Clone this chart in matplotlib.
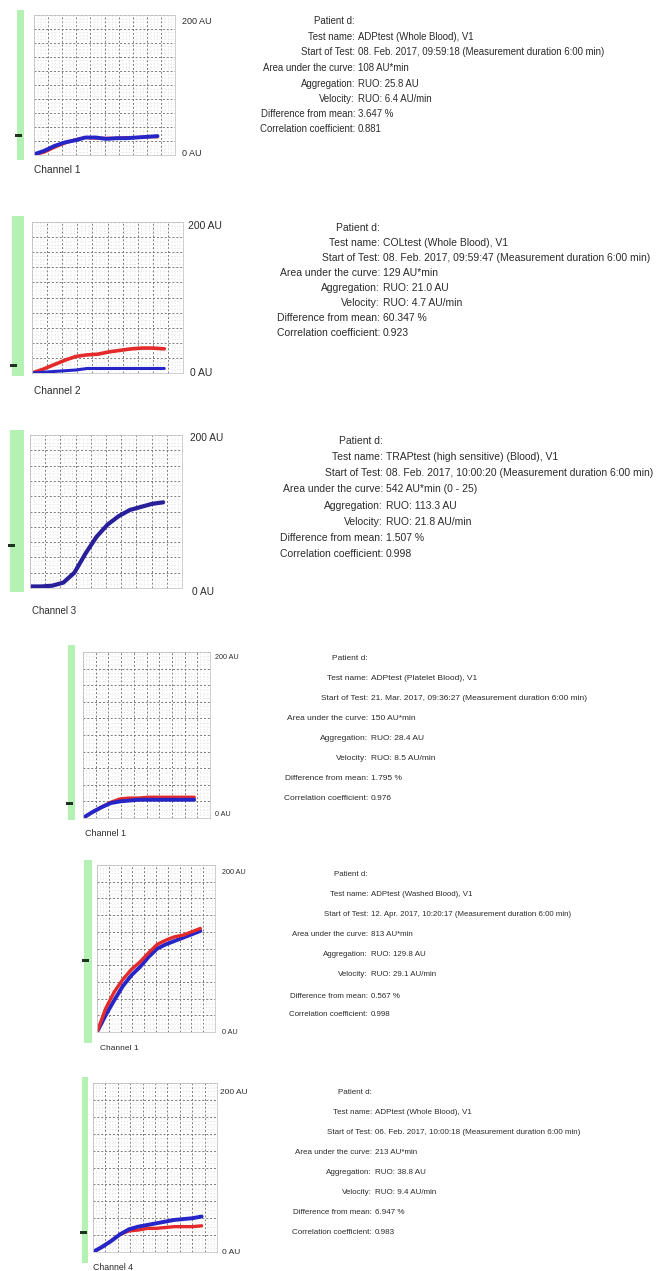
import numpy as np
import matplotlib
matplotlib.use("Agg")
import matplotlib.pyplot as plt
from matplotlib.patches import Rectangle

# ---------------- data ----------------
time_min = [0, 0.5, 1.0, 1.5, 2.0, 2.5, 3.0, 3.5, 4.0, 4.5, 5.0, 5.5, 6.0]

p1_blue = [1, 6, 13, 18, 21, 25, 25, 23, 24, 24, 25, 26, 27]
p1_red = [0, 4, 11, 17, 22, 25, 24, 24, 24, 25, 25, 26, 26]
p2_blue = [0, 1, 2, 3, 4, 6, 6, 6, 6, 6, 6, 6, 6]
p2_red = [0, 5, 11, 17, 22, 24, 25, 28, 30, 32, 33, 33, 32]
p3_blue = [2, 2, 3, 7, 20, 45, 67, 83, 94, 102, 106, 110, 112]
p4_blue = [0, 7, 13, 18, 20, 21, 22, 22, 22, 22, 22, 22, 22]
p4_red = [0, 7, 13, 19, 23, 24, 24, 25, 25, 25, 25, 25, 25]
p5_blue = [0, 20, 38, 55, 68, 78, 90, 100, 105, 109, 113, 117, 121]
p5_red = [0, 28, 48, 63, 75, 84, 95, 105, 110, 114, 116, 120, 124]
p6_blue = [0, 6, 13, 21, 27, 30, 32, 34, 36, 38, 39, 40, 42]
p6_red = [0, 6, 13, 21, 25, 26, 28, 28, 29, 30, 30, 30, 31]

channel_labels = ["Channel 1", "Channel 2", "Channel 3", "Channel 1", "Channel 1", "Channel 4"]
y_top_label = "200 AU"
y_bottom_label = "0 AU"

field_names = ["Patient d:", "Test name:", "Start of Test:", "Area under the curve:",
               "Aggregation:", "Velocity:", "Difference from mean:", "Correlation coefficient:"]

p1_values = ["", "ADPtest (Whole Blood), V1",
             "08. Feb. 2017, 09:59:18 (Measurement duration 6:00 min)",
             "108 AU*min", "RUO: 25.8 AU", "RUO: 6.4 AU/min", "3.647 %", "0.881"]
p2_values = ["", "COLtest (Whole Blood), V1",
             "08. Feb. 2017, 09:59:47 (Measurement duration 6:00 min)",
             "129 AU*min", "RUO: 21.0 AU", "RUO: 4.7 AU/min", "60.347 %", "0.923"]
p3_values = ["", "TRAPtest (high sensitive) (Blood), V1",
             "08. Feb. 2017, 10:00:20 (Measurement duration 6:00 min)",
             "542 AU*min (0 - 25)", "RUO: 113.3 AU", "RUO: 21.8 AU/min", "1.507 %", "0.998"]
p4_values = ["", "ADPtest (Platelet Blood), V1",
             "21. Mar. 2017, 09:36:27 (Measurement duration 6:00 min)",
             "150 AU*min", "RUO: 28.4 AU", "RUO: 8.5 AU/min", "1.795 %", "0.976"]
p5_values = ["", "ADPtest (Washed Blood), V1",
             "12. Apr. 2017, 10:20:17 (Measurement duration 6:00 min)",
             "813 AU*min", "RUO: 129.8 AU", "RUO: 29.1 AU/min", "0.567 %", "0.998"]
p6_values = ["", "ADPtest (Whole Blood), V1",
             "06. Feb. 2017, 10:00:18 (Measurement duration 6:00 min)",
             "213 AU*min", "RUO: 38.8 AU", "RUO: 9.4 AU/min", "6.947 %", "0.983"]

# ---------------- layout ----------------
W, H = 669, 1271
fig = plt.figure(figsize=(W / 100, H / 100), dpi=100)
fig.patch.set_facecolor("white")
plt.rcParams["font.family"] = ["Liberation Sans", "DejaVu Sans"]

BLUE = "#2626c8"
NAVY = "#2a1f9a"
RED = "#e42a2a"
GREEN = "#b4f2b4"
TXT = "#2b2b2b"


def pxbox(x0, y0, x1, y1):
    return [x0 / W, 1 - y1 / H, (x1 - x0) / W, (y1 - y0) / H]


def ftext(x, y, s, **kw):
    fig.text(x / W, 1 - y / H, s, va="center", color=TXT, **kw)


panels = [
    dict(box=(34, 15, 175, 155), strip=(17, 24, 10, 160), mark=135,
         top=(182, 21), bot=(182, 153), chan=(34, 170), fs_au=6.5, fs_ch=7.3,
         series=[(p1_red, RED, 2.2), (p1_blue, BLUE, 2.8)],
         colon=355, ys=[21, 37, 52, 68, 84, 99, 114, 129], vals=p1_values, fs=6.9),
    dict(box=(32, 222, 183, 373), strip=(12, 24, 216, 376), mark=365,
         top=(188, 226), bot=(190, 373), chan=(34, 391), fs_au=7.5, fs_ch=7.3,
         series=[(p2_red, RED, 2.6), (p2_blue, BLUE, 2.2)],
         colon=380, ys=[228, 243, 258, 273, 288, 303, 318, 333], vals=p2_values, fs=7.5),
    dict(box=(30, 435, 182, 588), strip=(10, 24, 430, 592), mark=545,
         top=(190, 438), bot=(192, 592), chan=(32, 611), fs_au=7.3, fs_ch=7.0,
         series=[(p3_blue, NAVY, 3.0)],
         colon=383, ys=[441, 457, 473, 489, 506, 522, 538, 554], vals=p3_values, fs=7.5),
    dict(box=(83, 652, 210, 818), strip=(68, 75, 645, 820), mark=803,
         top=(215, 657), bot=(215, 815), chan=(85, 834), fs_au=5.2, fs_ch=6.5,
         series=[(p4_red, RED, 2.4), (p4_blue, BLUE, 2.8)],
         colon=368, ys=[659, 679, 699, 719, 739, 759, 779, 799], vals=p4_values, fs=6.0),
    dict(box=(97, 865, 215, 1032), strip=(84, 92, 860, 1043), mark=960,
         top=(222, 873), bot=(222, 1032), chan=(100, 1048), fs_au=5.2, fs_ch=6.0,
         series=[(p5_blue, BLUE, 2.8), (p5_red, RED, 2.4)],
         colon=368, ys=[875, 895, 915, 935, 955, 975, 996, 1015], vals=p5_values, fs=5.7),
    dict(box=(93, 1083, 217, 1252), strip=(82, 88, 1077, 1263), mark=1232,
         top=(220, 1092), bot=(222, 1252), chan=(93, 1267), fs_au=6.0, fs_ch=6.3,
         series=[(p6_red, RED, 2.4), (p6_blue, BLUE, 2.8)],
         colon=372, ys=[1092, 1112, 1132, 1152, 1172, 1193, 1213, 1233], vals=p6_values, fs=5.8),
]

XMAX = 6.85
for p in panels:
    x0, y0, x1, y1 = p["box"]
    ax = fig.add_axes(pxbox(x0, y0, x1, y1))
    ax.set_xlim(0, XMAX)
    ax.set_ylim(0, 200)
    ax.set_xticks(np.linspace(0, XMAX, 11))
    ax.set_yticks(np.linspace(0, 200, 11))
    ax.set_xticks(np.linspace(0, XMAX, 41), minor=True)
    ax.set_yticks(np.linspace(0, 200, 41), minor=True)
    ax.grid(True, which="major", color="#7a7a7a", linestyle=(0, (2, 2)), linewidth=0.7)
    ax.grid(True, which="minor", color="#d0d0d0", linestyle=(0, (1, 3)), linewidth=0.5)
    ax.tick_params(which="both", length=0, labelbottom=False, labelleft=False)
    for s in ax.spines.values():
        s.set_color("#c8c8c8")
        s.set_linewidth(0.6)
    for vals, col, lw in p["series"]:
        ax.plot(time_min, vals, color=col, linewidth=lw, solid_capstyle="round")

    sx0, sx1, sy0, sy1 = p["strip"]
    fig.patches.append(Rectangle((sx0 / W, 1 - sy1 / H), (sx1 - sx0) / W, (sy1 - sy0) / H,
                                 transform=fig.transFigure, facecolor=GREEN,
                                 edgecolor="none", zorder=0))
    fig.patches.append(Rectangle(((sx0 - 2) / W, 1 - (p["mark"] + 1.5) / H), 7 / W, 3 / H,
                                 transform=fig.transFigure, facecolor="#1f3320",
                                 edgecolor="none", zorder=2))

    ftext(p["top"][0], p["top"][1], y_top_label, fontsize=p["fs_au"], ha="left")
    ftext(p["bot"][0], p["bot"][1], y_bottom_label, fontsize=p["fs_au"], ha="left")

for p, lab in zip(panels, channel_labels):
    ftext(p["chan"][0], p["chan"][1], lab, fontsize=p["fs_ch"], ha="left")

for p in panels:
    for name, val, y in zip(field_names, p["vals"], p["ys"]):
        ftext(p["colon"], y, name, fontsize=p["fs"], ha="right")
        if val:
            ftext(p["colon"] + 3, y, val, fontsize=p["fs"], ha="left")

fig.savefig("out.png", dpi=100, facecolor="white")
